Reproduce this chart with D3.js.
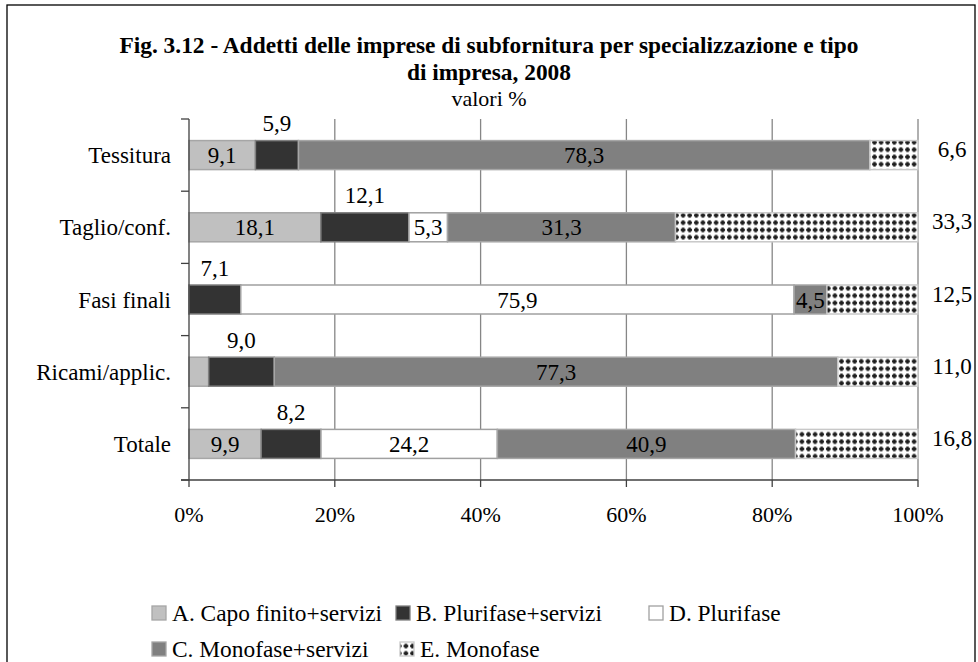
<!DOCTYPE html>
<html>
<head>
<meta charset="utf-8">
<script src="https://cdn.jsdelivr.net/npm/d3@7"></script>
<style>
  body { margin: 0; background: #fff; }
  svg text { font-family: "Liberation Serif", "Times New Roman", serif; fill: #000; }
</style>
</head>
<body>
<div id="chart"></div>
<script>
// categorie e serie (valori %)
var categories = ["Tessitura", "Taglio/conf.", "Fasi finali", "Ricami/applic.", "Totale"];
var seriesA = [9.1, 18.1, 0, 2.7, 9.9];     // A. Capo finito+servizi
var seriesB = [5.9, 12.1, 7.1, 9.0, 8.2];   // B. Plurifase+servizi
var seriesD = [0, 5.3, 75.9, 0, 24.2];      // D. Plurifase
var seriesC = [78.3, 31.3, 4.5, 77.3, 40.9]; // C. Monofase+servizi
var seriesE = [6.6, 33.3, 12.5, 11.0, 16.8]; // E. Monofase
var xTicks = [0, 20, 40, 60, 80, 100];
var tickLabels = ["0%", "20%", "40%", "60%", "80%", "100%"];

var W = 978, H = 662;
var pLeft = 189, pRight = 918, pTop = 119, pBottom = 480;

var svg = d3.select("#chart").append("svg")
  .attr("width", W).attr("height", H);

// retino a puntini per E
var defs = svg.append("defs");
var pat = defs.append("pattern")
  .attr("id", "dots")
  .attr("patternUnits", "userSpaceOnUse")
  .attr("width", 6.6).attr("height", 7.3);
pat.append("rect").attr("width", 6.6).attr("height", 7.3).attr("fill", "#fff");
pat.append("rect").attr("x", 2.1).attr("y", 1.3).attr("width", 2.4).attr("height", 4.7).attr("fill", "#1e1e1e");
pat.append("rect").attr("x", 1.0).attr("y", 2.45).attr("width", 4.6).attr("height", 2.4).attr("fill", "#1e1e1e");

// cornice
svg.append("rect")
  .attr("x", 7).attr("y", 5).attr("width", 968).attr("height", 700)
  .attr("fill", "none").attr("stroke", "#000").attr("stroke-width", 1.3);

// titolo
svg.append("text").attr("x", 489).attr("y", 53).attr("text-anchor", "middle")
  .style("font-weight", "bold").style("font-size", "23.4px")
  .text("Fig. 3.12 - Addetti delle imprese di subfornitura per specializzazione e tipo");
svg.append("text").attr("x", 489).attr("y", 80).attr("text-anchor", "middle")
  .style("font-weight", "bold").style("font-size", "23.4px")
  .text("di impresa, 2008");
svg.append("text").attr("x", 489).attr("y", 106).attr("text-anchor", "middle")
  .style("font-size", "22px")
  .text("valori %");

var x = d3.scaleLinear().domain([0, 100]).range([pLeft, pRight]);
var y = d3.scaleBand().domain(categories).range([pTop, pBottom]);

// griglia
svg.append("g").selectAll("line")
  .data(xTicks.slice(1)).enter().append("line")
  .attr("x1", function(d) { return x(d); }).attr("x2", function(d) { return x(d); })
  .attr("y1", pTop).attr("y2", pBottom)
  .attr("stroke", "#868686").attr("stroke-width", 1.3);

var series = [
  {key: "A", name: "A. Capo finito+servizi", vals: seriesA, fill: "#c0c0c0", stroke: "#a6a6a6"},
  {key: "B", name: "B. Plurifase+servizi", vals: seriesB, fill: "#333333", stroke: "#808080"},
  {key: "D", name: "D. Plurifase", vals: seriesD, fill: "#ffffff", stroke: "#a0a0a0"},
  {key: "C", name: "C. Monofase+servizi", vals: seriesC, fill: "#808080", stroke: "#a6a6a6"},
  {key: "E", name: "E. Monofase", vals: seriesE, fill: "url(#dots)", stroke: "#c8c8c8"}
];

var rows = categories.map(function(c, i) {
  var r = {cat: c};
  series.forEach(function(s) { r[s.key] = s.vals[i]; });
  return r;
});
// 100% in pila
rows.forEach(function(r) {
  var tot = d3.sum(series, function(s) { return r[s.key]; });
  series.forEach(function(s) { r[s.key] = r[s.key] / tot * 100; });
});
var stack = d3.stack().keys(series.map(function(s) { return s.key; }))(rows);

var barH = 29;
var fmt = function(v) { return v.toFixed(1).replace(".", ","); };

stack.forEach(function(layer, li) {
  var s = series[li];
  var g = svg.append("g");
  g.selectAll("rect").data(layer).enter().append("rect")
    .attr("x", function(d) { return x(d[0]); })
    .attr("y", function(d) { return y(d.data.cat) + y.bandwidth() / 2 - barH / 2; })
    .attr("width", function(d) { return Math.max(0, x(d[1]) - x(d[0])); })
    .attr("height", barH)
    .attr("fill", s.fill)
    .attr("stroke", function(d) { return d[1] - d[0] > 0 ? s.stroke : "none"; })
    .attr("stroke-width", 1.5);
});

// etichette
stack.forEach(function(layer, li) {
  var s = series[li];
  svg.append("g").selectAll("text")
    .data(layer.filter(function(d, i) { return s.vals[i] >= 3; }))
    .enter().append("text")
    .style("font-size", "23px")
    .attr("text-anchor", "middle")
    .attr("x", function(d) {
      if (s.key == "E") return pRight + 34;
      return x((d[0] + d[1]) / 2);
    })
    .attr("y", function(d) {
      var cy = y(d.data.cat) + y.bandwidth() / 2;
      if (s.key == "B") return cy - 32 + 8;
      if (s.key == "E") return cy + 2;
      return cy + 8;
    })
    .text(function(d) { return fmt(s.vals[categories.indexOf(d.data.cat)]); });
});

// assi
svg.append("line").attr("x1", pLeft).attr("x2", pLeft).attr("y1", pTop).attr("y2", pBottom)
  .attr("stroke", "#404040").attr("stroke-width", 1.3);
svg.append("g").selectAll("line")
  .data(d3.range(categories.length + 1)).enter().append("line")
  .attr("x1", pLeft - 8).attr("x2", pLeft)
  .attr("y1", function(d) { return pTop + d * y.step(); })
  .attr("y2", function(d) { return pTop + d * y.step(); })
  .attr("stroke", "#404040").attr("stroke-width", 1.3);
svg.append("line").attr("x1", pLeft - 8).attr("x2", pRight).attr("y1", pBottom).attr("y2", pBottom)
  .attr("stroke", "#404040").attr("stroke-width", 1.3);
svg.append("g").selectAll("line")
  .data(xTicks).enter().append("line")
  .attr("x1", function(d) { return x(d); }).attr("x2", function(d) { return x(d); })
  .attr("y1", pBottom).attr("y2", pBottom + 7)
  .attr("stroke", "#404040").attr("stroke-width", 1.3);

svg.append("g").selectAll("text")
  .data(xTicks).enter().append("text")
  .style("font-size", "22px")
  .attr("text-anchor", "middle")
  .attr("x", function(d) { return x(d); })
  .attr("y", 522)
  .text(function(d, i) { return tickLabels[i]; });

svg.append("g").selectAll("text")
  .data(categories).enter().append("text")
  .style("font-size", "23px")
  .attr("text-anchor", "end")
  .attr("x", 171)
  .attr("y", function(d) { return y(d) + y.bandwidth() / 2 + 8; })
  .text(function(d) { return d; });

// legenda
var legendPos = {
  A: [152, 621], B: [396, 621], D: [649, 621],
  C: [152, 657], E: [400, 657]
};
series.forEach(function(s) {
  var p = legendPos[s.key];
  svg.append("rect")
    .attr("x", p[0]).attr("y", p[1] - 15).attr("width", 14).attr("height", 14)
    .attr("fill", s.fill).attr("stroke", s.key == "E" ? "#c8c8c8" : s.stroke).attr("stroke-width", 1.3);
  svg.append("text")
    .style("font-size", "23.4px")
    .attr("x", p[0] + 20).attr("y", p[1])
    .text(s.name);
});
</script>
</body>
</html>
